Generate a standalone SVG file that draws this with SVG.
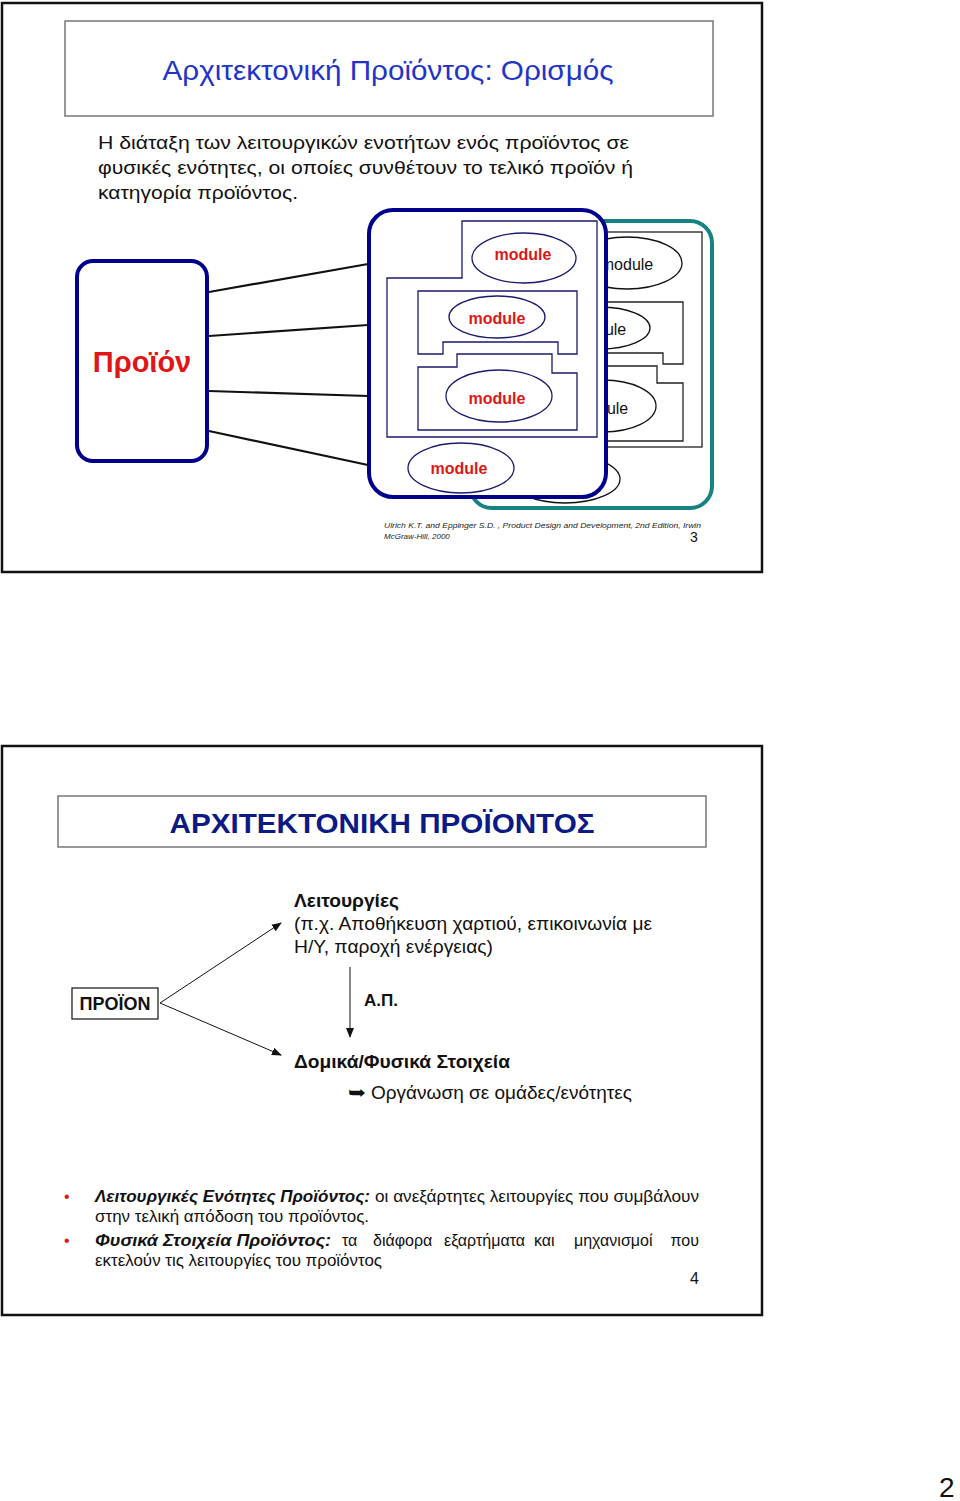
<svg xmlns="http://www.w3.org/2000/svg" width="960" height="1501" viewBox="0 0 960 1501">
<defs>
<style>
.slide{fill:#fff;stroke:#111;stroke-width:2.5}
.tbox{fill:#fff;stroke:#777;stroke-width:1.5}
.sans{font-family:"Liberation Sans",Arial,sans-serif}
.mod{font-family:"Liberation Sans",Arial,sans-serif;font-size:16px;font-weight:bold;fill:#e01515;text-anchor:middle}
.modb{font-family:"Liberation Sans",Arial,sans-serif;font-size:16px;fill:#111;text-anchor:middle}
.nell{fill:#fff;stroke:#1a1a70;stroke-width:1.3}
.bell{fill:#fff;stroke:#111;stroke-width:1.3}
.nshape{fill:none;stroke:#1a1a70;stroke-width:1.3}
.bshape{fill:none;stroke:#222;stroke-width:1.3}
.link{stroke:#111;stroke-width:2.2;fill:none}
.arr{stroke:#111;stroke-width:1;fill:none;marker-end:url(#ah)}
.body{font-family:"Liberation Sans",Arial,sans-serif;font-size:19px;fill:#111}
.bul{font-family:"Liberation Sans",Arial,sans-serif;font-size:16px;fill:#111}
</style>
<marker id="ah" markerWidth="10" markerHeight="8" refX="9" refY="4" orient="auto" markerUnits="userSpaceOnUse">
<path d="M0,0 L10,4 L0,8 Z" fill="#111"/>
</marker>
</defs>
<rect width="960" height="1501" fill="#fff"/>

<!-- Slide 1 -->
<g id="slide1">
<rect class="slide" x="2" y="3" width="760" height="569"/>
<rect class="tbox" x="65" y="21" width="648" height="95"/>
<text class="sans" x="388" y="80" font-size="28" fill="#2234c8" text-anchor="middle" textLength="451" lengthAdjust="spacingAndGlyphs">Αρχιτεκτονική Προϊόντος: Ορισμός</text>
<text class="body" x="98" y="149" textLength="531" lengthAdjust="spacingAndGlyphs">Η διάταξη των λειτουργικών ενοτήτων ενός προϊόντος σε</text>
<text class="body" x="98" y="174" textLength="535" lengthAdjust="spacingAndGlyphs">φυσικές ενότητες, οι οποίες συνθέτουν το τελικό προϊόν ή</text>
<text class="body" x="98" y="199" textLength="200" lengthAdjust="spacingAndGlyphs">κατηγορία προϊόντος.</text>
</g>

<g id="connectors1">
<line class="link" x1="209" y1="292" x2="368" y2="264"/>
<line class="link" x1="209" y1="336" x2="368" y2="325"/>
<line class="link" x1="209" y1="391" x2="368" y2="396"/>
<line class="link" x1="209" y1="431" x2="368" y2="465"/>
</g>

<g id="product">
<rect x="77" y="261" width="130" height="200" rx="16" fill="#fff" stroke="#00008c" stroke-width="4"/>
<text class="sans" x="142" y="372" font-size="29" font-weight="bold" fill="#e01515" text-anchor="middle">Προϊόν</text>
</g>

<g id="back-module-box">
<rect x="470" y="221" width="242" height="287" rx="22" fill="#fff" stroke="#178282" stroke-width="4"/>
<rect class="bshape" x="520" y="232" width="182" height="215"/>
<polygon class="bshape" points="520,302 683,302 683,364 663,364 663,353 530,353 530,364 520,364"/>
<polygon class="bshape" points="520,366 657,366 657,383 683,383 683,441 520,441"/>
<ellipse class="bell" cx="627" cy="263" rx="55" ry="26"/>
<text class="modb" x="627" y="270">module</text>
<ellipse class="bell" cx="600" cy="328" rx="50" ry="21"/>
<text class="modb" x="600" y="335">module</text>
<ellipse class="bell" cx="603" cy="406" rx="53" ry="26"/>
<text class="modb" x="602" y="414">module</text>
<ellipse class="bell" cx="565" cy="479" rx="55" ry="24"/>
</g>

<g id="front-module-box">
<rect x="369" y="210" width="237" height="287" rx="24" fill="#fff" stroke="#00008c" stroke-width="4"/>
<polygon class="nshape" points="462,221 597,221 597,437 387,437 387,278 462,278"/>
<polygon class="nshape" points="418,291 577,291 577,354 558,354 558,342 443,342 443,354 418,354"/>
<polygon class="nshape" points="418,367 457,367 457,354 552,354 552,373 577,373 577,430 418,430"/>
</g>

<g id="module1">
<ellipse class="nell" cx="524" cy="258" rx="52" ry="25"/>
<text class="mod" x="523" y="260">module</text>
</g>
<g id="module2">
<ellipse class="nell" cx="497" cy="317" rx="48" ry="21"/>
<text class="mod" x="497" y="324">module</text>
</g>
<g id="module3">
<ellipse class="nell" cx="499" cy="396" rx="53" ry="26"/>
<text class="mod" x="497" y="404">module</text>
</g>
<g id="module4">
<ellipse class="nell" cx="461" cy="468" rx="53" ry="25"/>
<text class="mod" x="459" y="474">module</text>
</g>

<g id="citation">
<text class="sans" x="384" y="528" font-size="8" font-style="italic" fill="#222" textLength="317" lengthAdjust="spacingAndGlyphs">Ulrich K.T. and Eppinger S.D. , Product Design and Development, 2nd Edition, Irwin</text>
<text class="sans" x="384" y="539" font-size="8" font-style="italic" fill="#222">McGraw-Hill, 2000</text>
<text class="sans" x="690" y="542" font-size="14" fill="#111">3</text>
</g>

<!-- Slide 2 -->
<g id="slide2">
<rect class="slide" x="2" y="746" width="760" height="569"/>
<rect class="tbox" x="58" y="796" width="648" height="51"/>
<text class="sans" x="382" y="833" font-size="28" font-weight="bold" fill="#0c1a86" text-anchor="middle" textLength="425" lengthAdjust="spacingAndGlyphs">ΑΡΧΙΤΕΚΤΟΝΙΚΗ ΠΡΟΪΟΝΤΟΣ</text>
</g>

<g id="proion">
<rect x="72" y="988" width="86" height="31" fill="#fff" stroke="#111" stroke-width="1.2"/>
<text class="sans" x="115" y="1010" font-size="18" font-weight="bold" fill="#111" text-anchor="middle">ΠΡΟΪΟΝ</text>
</g>

<g id="functions">
<text class="sans" x="294" y="907" font-size="18" font-weight="bold" fill="#111" textLength="105" lengthAdjust="spacingAndGlyphs">Λειτουργίες</text>
<text class="sans" x="294" y="930" font-size="18" fill="#111" textLength="358" lengthAdjust="spacingAndGlyphs">(π.χ. Αποθήκευση χαρτιού, επικοινωνία με</text>
<text class="sans" x="294" y="953" font-size="18" fill="#111" textLength="199" lengthAdjust="spacingAndGlyphs">Η/Υ, παροχή ενέργειας)</text>
</g>

<g id="physical">
<text class="sans" x="294" y="1068" font-size="18" font-weight="bold" fill="#111" textLength="216" lengthAdjust="spacingAndGlyphs">Δομικά/Φυσικά Στοιχεία</text>
<text x="348" y="1099" font-family="DejaVu Sans,sans-serif" font-size="19" fill="#111" textLength="18" lengthAdjust="spacingAndGlyphs">➥</text>
<text class="sans" x="371" y="1099" font-size="18" fill="#111" textLength="261" lengthAdjust="spacingAndGlyphs">Οργάνωση σε ομάδες/ενότητες</text>
</g>

<g id="connectors2">
<line class="arr" x1="160" y1="1003" x2="281" y2="923"/>
<line class="arr" x1="160" y1="1003" x2="281" y2="1055"/>
<line class="arr" x1="350" y1="967" x2="350" y2="1037"/>
<text class="sans" x="364" y="1006" font-size="17" font-weight="bold" fill="#111">Α.Π.</text>
</g>

<g id="bullets">
<text class="sans" x="64" y="1202" font-size="16" fill="#e01515">•</text>
<text class="bul" x="95" y="1202" font-weight="bold" font-style="italic" textLength="275" lengthAdjust="spacingAndGlyphs">Λειτουργικές Ενότητες Προϊόντος:</text>
<text class="bul" x="375" y="1202" textLength="324" lengthAdjust="spacingAndGlyphs">οι ανεξάρτητες λειτουργίες που συμβάλουν</text>
<text class="bul" x="95" y="1222" textLength="274" lengthAdjust="spacingAndGlyphs">στην τελική απόδοση του προϊόντος.</text>
<text class="sans" x="64" y="1246" font-size="16" fill="#e01515">•</text>
<text class="bul" x="95" y="1246" font-weight="bold" font-style="italic" textLength="236" lengthAdjust="spacingAndGlyphs">Φυσικά Στοιχεία Προϊόντος:</text>
<text class="bul" x="342" y="1246">τα</text>
<text class="bul" x="373" y="1246">διάφορα</text>
<text class="bul" x="444" y="1246">εξαρτήματα</text>
<text class="bul" x="534" y="1246">και</text>
<text class="bul" x="574" y="1246">μηχανισμοί</text>
<text class="bul" x="699" y="1246" text-anchor="end">που</text>
<text class="bul" x="95" y="1266" textLength="287" lengthAdjust="spacingAndGlyphs">εκτελούν τις λειτουργίες του προϊόντος</text>
<text class="bul" x="690" y="1284" font-size="13">4</text>
</g>

<text class="sans" x="939" y="1497" font-size="28" fill="#111">2</text>
</svg>
